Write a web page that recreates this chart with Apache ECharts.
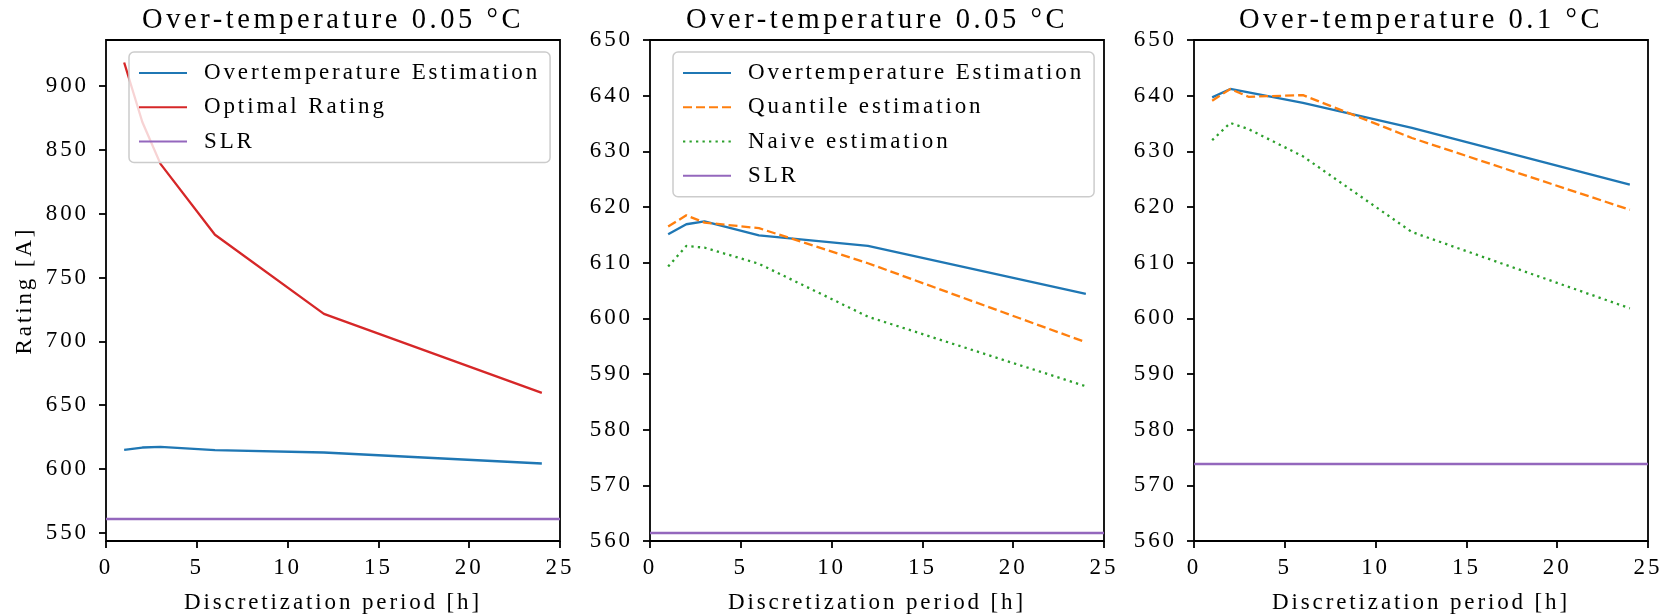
<!DOCTYPE html>
<html>
<head>
<meta charset="utf-8">
<style>
  html, body { margin: 0; padding: 0; background: #ffffff; }
  #chart { width: 1669px; height: 614px; }
</style>
<script src="https://cdn.jsdelivr.net/npm/echarts@6/dist/echarts.min.js"></script>
</head>
<body>
<div id="chart"></div>
<script>
// ---------------- data ----------------
const periods = [1, 2, 3, 6, 12, 24];

// Over-temperature 0.05 °C
const overtempEst005 = [615.1, 616.9, 617.4, 614.9, 613.0, 604.4];
const optimalRating005 = [918.4, 871.8, 839.0, 783.5, 721.6, 659.7];
const quantileEst005 = [616.5, 618.5, 617.2, 616.2, 609.9, 595.7];
const naiveEst005 = [609.3, 613.0, 612.7, 609.8, 600.3, 587.8];
const slr005 = 561.5;

// Over-temperature 0.1 °C
const overtempEst01 = [639.7, 641.2, 640.6, 638.7, 634.2, 624.0];
const quantileEst01 = [639.1, 641.2, 639.8, 640.1, 632.4, 619.5];
const naiveEst01 = [632.0, 635.1, 634.0, 629.1, 615.5, 601.8];
const slr01 = 573.9;

// tick labels
const xTicks = [0, 5, 10, 15, 20, 25];
const yTicksLeft = [550, 600, 650, 700, 750, 800, 850, 900];
const yTicksRight = [560, 570, 580, 590, 600, 610, 620, 630, 640, 650];

const titles = ['Over-temperature 0.05 °C', 'Over-temperature 0.05 °C', 'Over-temperature 0.1 °C'];
const xName = 'Discretization period [h]';
const yName = 'Rating [A]';
const NAME_OTE = 'Overtemperature Estimation';
const NAME_OPT = 'Optimal Rating';
const NAME_Q = 'Quantile estimation';
const NAME_N = 'Naive estimation';
const NAME_SLR = 'SLR';

// ---------------- letter spacing for canvas text (measured and drawn alike) ----------------
(function () {
  const proto = CanvasRenderingContext2D.prototype;
  const d = Object.getOwnPropertyDescriptor(proto, 'font');
  if (d && ('letterSpacing' in proto)) {
    Object.defineProperty(proto, 'font', {
      configurable: true,
      enumerable: d.enumerable,
      get() { return d.get.call(this); },
      set(v) {
        d.set.call(this, v);
        const m = /(\d+(?:\.\d+)?)px/.exec(v);
        const s = m ? parseFloat(m[1]) * 0.125 : 0;
        this.letterSpacing = s.toFixed(2) + 'px';
      }
    });
  }
})();

// ---------------- styling ----------------
const FONT = "'Liberation Serif', 'Times New Roman', serif";
const C_BLUE = '#1f77b4', C_ORANGE = '#ff7f0e', C_GREEN = '#2ca02c', C_RED = '#d62728', C_PURPLE = '#9467bd';
const LW = 2.3;
const DASHED = [9, 4];
const DOTTED = [2.3, 4.2];

const grids = [
  { left: 106, right: 1669 - 560, top: 40, bottom: 614 - 541 },
  { left: 650, right: 1669 - 1104, top: 40, bottom: 614 - 541 },
  { left: 1194, right: 1669 - 1648, top: 40, bottom: 614 - 541 }
];

const pairs = (xs, ys) => xs.map((x, i) => [x, ys[i]]);

function xAxisFor(i) {
  return {
    gridIndex: i, type: 'value', min: 0, max: 25, interval: 5,
    name: xName, nameLocation: 'middle', nameGap: 49,
    nameTextStyle: { fontFamily: FONT, fontSize: 23, color: '#000' },
    axisLine: { show: false },
    axisTick: { show: true, inside: false, length: 7, lineStyle: { color: '#000', width: 1.8 } },
    axisLabel: { fontFamily: FONT, fontSize: 23, color: '#000', margin: 14,
      customValues: xTicks },
    splitLine: { show: false }
  };
}

function yAxisFor(i, min, max, ticks, withName) {
  const ax = {
    gridIndex: i, type: 'value', min: min, max: max,
    axisLine: { show: false },
    axisTick: { show: true, inside: false, length: 7, lineStyle: { color: '#000', width: 1.8 },
      customValues: ticks },
    axisLabel: { fontFamily: FONT, fontSize: 23, color: '#000', margin: 17,
      customValues: ticks },
    splitLine: { show: false }
  };
  if (withName) {
    ax.name = yName;
    ax.nameLocation = 'middle';
    ax.nameGap = 68;
    ax.nameTextStyle = { fontFamily: FONT, fontSize: 23, color: '#000' };
  }
  return ax;
}

function lineSeries(name, gi, ys, color, type) {
  return {
    name: name, type: 'line', xAxisIndex: gi, yAxisIndex: gi,
    data: pairs(periods, ys), symbol: 'none', showSymbol: false, smooth: false,
    color: color,
    lineStyle: { color: color, width: LW, type: type || 'solid' },
    silent: true, z: 3
  };
}

function slrSeries(gi, value) {
  return {
    name: NAME_SLR, type: 'line', xAxisIndex: gi, yAxisIndex: gi,
    data: [], symbol: 'none', color: C_PURPLE,
    lineStyle: { color: C_PURPLE, width: LW, type: 'solid' },
    markLine: {
      silent: true, symbol: ['none', 'none'], label: { show: false },
      lineStyle: { color: C_PURPLE, width: LW, type: 'solid' },
      emphasis: { disabled: true },
      data: [{ yAxis: value }]
    },
    z: 3
  };
}

function legendFor(left, top, names) {
  return {
    show: true, left: left, top: top, orient: 'vertical',
    data: names,
    itemWidth: 48, itemHeight: 14, itemGap: 8.4,
    padding: [8, 10, 8, 9],
    backgroundColor: 'rgba(255,255,255,0.8)',
    borderColor: '#cccccc', borderWidth: 1.5, borderRadius: 5,
    selectedMode: false,
    itemStyle: { color: 'rgba(0,0,0,0)', borderColor: 'rgba(0,0,0,0)', borderWidth: 0, opacity: 0 },
    textStyle: { fontFamily: FONT, fontSize: 23, color: '#000', padding: [0, 0, 0, 12] },
    z: 10
  };
}

const option = {
  animation: false,
  backgroundColor: '#ffffff',
  title: titles.map((t, i) => ({
    text: t,
    left: (grids[i].left + (1669 - grids[i].right)) / 2,
    top: 4,
    textAlign: 'center',
    padding: 0,
    textStyle: { fontFamily: FONT, fontSize: 28.5, fontWeight: 'normal', color: '#000' }
  })),
  grid: grids.map(g => Object.assign({ show: true, borderColor: '#000', borderWidth: 1.8, backgroundColor: 'transparent', containLabel: false, outerBoundsMode: 'none' }, g)),
  xAxis: [xAxisFor(0), xAxisFor(1), xAxisFor(2)],
  yAxis: [
    yAxisFor(0, 543.7, 936, yTicksLeft, true),
    yAxisFor(1, 560, 650, yTicksRight, false),
    yAxisFor(2, 560, 650, yTicksRight, false)
  ],
  legend: [
    legendFor(129, 52, [NAME_OTE, NAME_OPT, NAME_SLR]),
    legendFor(673, 52, [NAME_OTE, NAME_Q, NAME_N, NAME_SLR])
  ],
  series: [
    lineSeries(NAME_OTE, 0, overtempEst005, C_BLUE),
    lineSeries(NAME_OPT, 0, optimalRating005, C_RED),
    slrSeries(0, slr005),

    lineSeries(NAME_OTE, 1, overtempEst005, C_BLUE),
    lineSeries(NAME_Q, 1, quantileEst005, C_ORANGE, DASHED),
    lineSeries(NAME_N, 1, naiveEst005, C_GREEN, DOTTED),
    slrSeries(1, slr005),

    lineSeries(NAME_OTE, 2, overtempEst01, C_BLUE),
    lineSeries(NAME_Q, 2, quantileEst01, C_ORANGE, DASHED),
    lineSeries(NAME_N, 2, naiveEst01, C_GREEN, DOTTED),
    slrSeries(2, slr01)
  ]
};

const chart = echarts.init(document.getElementById('chart'), null, { renderer: 'canvas' });
chart.setOption(option);
</script>
</body>
</html>
